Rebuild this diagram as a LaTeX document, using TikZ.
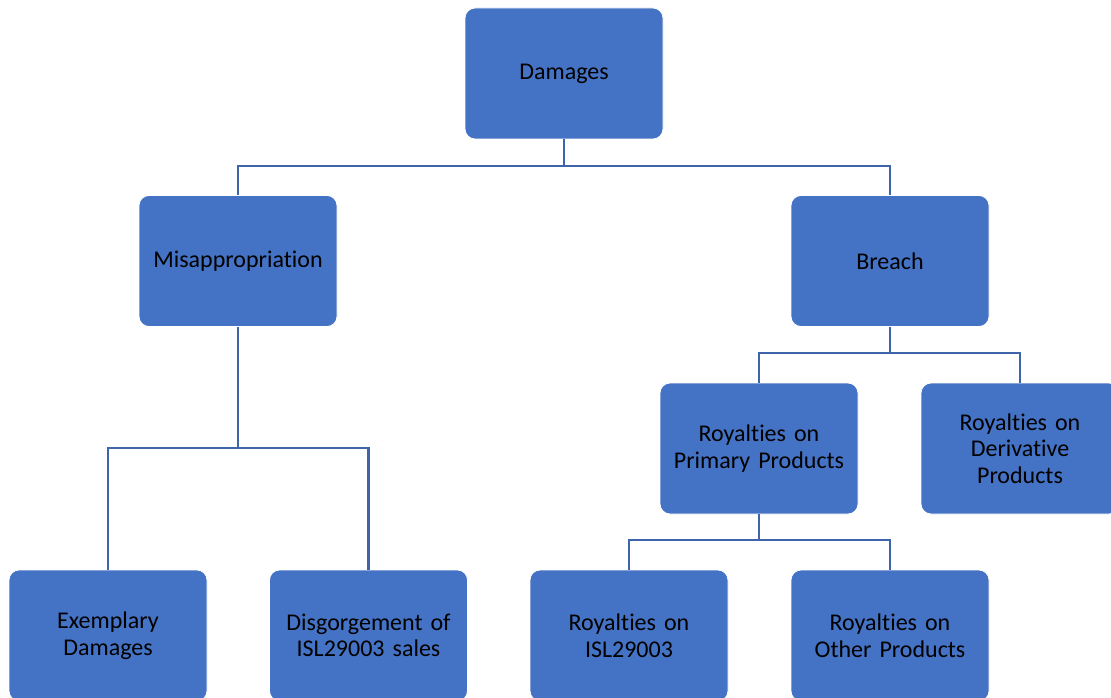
\documentclass[tikz,border=0pt]{standalone}
\usepackage{fontspec}
\setmainfont[Ligatures={NoCommon}]{Carlito}
\definecolor{boxblue}{HTML}{4472C4}
\definecolor{linkblue}{HTML}{3E65AC}
\begin{document}
\begin{tikzpicture}[x=1pt,y=-1pt,
  box/.style={draw=white,line width=0.8pt,fill=boxblue,rounded corners=10pt,minimum width=198pt,minimum height=131pt,inner sep=2pt,align=center,text width=194pt,font=\fontsize{24}{26.5}\selectfont,text=black},
  link/.style={draw=linkblue,line width=2.4pt}]
\useasboundingbox (0,0) rectangle (1111,698);
\clip (0,0) rectangle (1111,698);
\node[box] (dam) at (564,73.5) {Damages};
\node[box] (mis) at (238,261) {Misappropriation};
\node[box] (bre) at (890,261) {Breach};
\node[box] (pri) at (759,448.5) {Royalties on\\Primary Products};
\node[box] (der) at (1020,448.5) {Royalties on\\Derivative\\Products};
\node[box] (exe) at (108,635.5) {Exemplary\\Damages};
\node[box] (dis) at (368.5,635.5) {Disgorgement of\\ISL29003 sales};
\node[box] (isl) at (629,635.5) {Royalties on\\ISL29003};
\node[box] (oth) at (890,635.5) {Royalties on\\Other Products};
\coordinate (j1) at (564,166);
\coordinate (j2) at (238,448);
\coordinate (j3) at (890,353);
\coordinate (j4) at (759,540);
\draw[link] (dam.south) -- (j1);
\draw[link] (j1) -| (mis.north);
\draw[link] (j1) -| (bre.north);
\draw[link] (mis.south) -- (j2);
\draw[link] (j2) -| (exe.north);
\draw[link] (j2) -| (dis.north);
\draw[link] (bre.south) -- (j3);
\draw[link] (j3) -| (pri.north);
\draw[link] (j3) -| (der.north);
\draw[link] (pri.south) -- (j4);
\draw[link] (j4) -| (isl.north);
\draw[link] (j4) -| (oth.north);
\end{tikzpicture}
\end{document}
